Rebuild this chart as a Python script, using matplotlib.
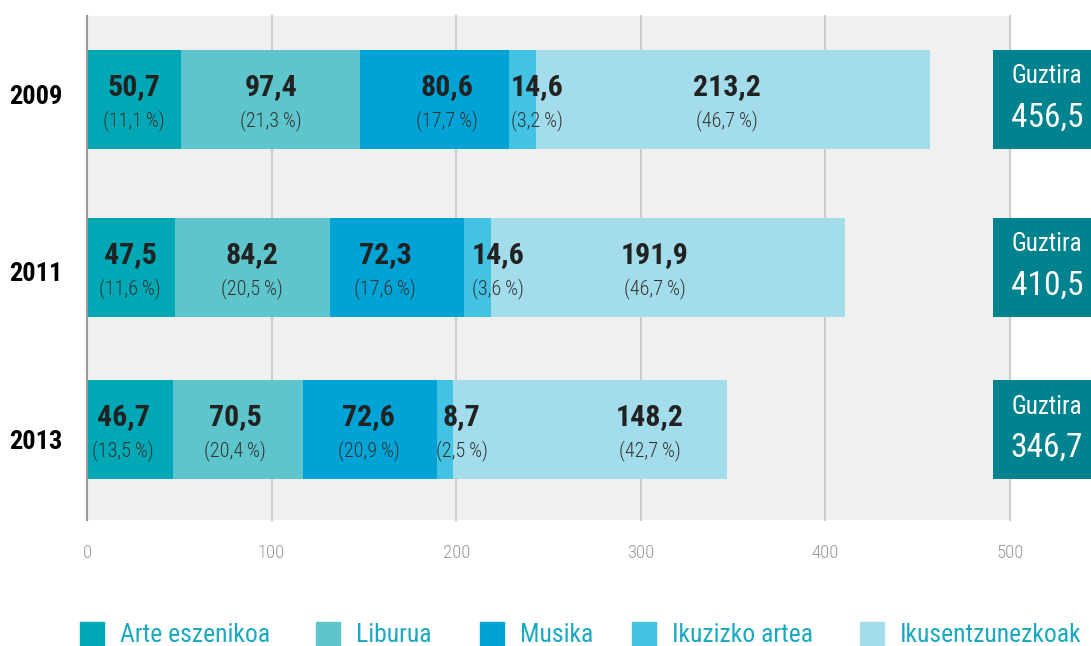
import matplotlib
matplotlib.use("Agg")
import matplotlib.pyplot as plt
from matplotlib import font_manager
from matplotlib.patches import Rectangle

# datuak
years = ["2009", "2011", "2013"]
categories = ["Arte eszenikoa", "Liburua", "Musika", "Ikuzizko artea", "Ikusentzunezkoak"]
arte = [50.7, 47.5, 46.7]
liburua = [97.4, 84.2, 70.5]
musika = [80.6, 72.3, 72.6]
ikuzizko = [14.6, 14.6, 8.7]
ikusentzun = [213.2, 191.9, 148.2]
arte_pct = ["11,1", "11,6", "13,5"]
liburua_pct = ["21,3", "20,5", "20,4"]
musika_pct = ["17,7", "17,6", "20,9"]
ikuzizko_pct = ["3,2", "3,6", "2,5"]
ikusentzun_pct = ["46,7", "46,7", "42,7"]
totals = ["456,5", "410,5", "346,7"]
xticks = [0, 100, 200, 300, 400, 500]

colors = ["#00a8b5", "#5dc5cb", "#00a3d6", "#42c3e3", "#a3dcea"]

# font estrezho bat bilatu
avail = {f.name for f in font_manager.fontManager.ttflist}
FONT = "DejaVu Sans"
for cand in ["Roboto Condensed", "Liberation Sans Narrow", "Open Sans Condensed", "DejaVu Sans Condensed"]:
    if cand in avail:
        FONT = cand
        break
plt.rcParams["font.family"] = [FONT, "DejaVu Sans"]

W, H = 1091, 646
fig = plt.figure(figsize=(W / 100, H / 100), dpi=100)
ax = fig.add_axes([87 / W, 1 - 520 / H, (1010 - 87) / W, (520 - 15.7) / H])
ax.set_facecolor("#f0f0f0")
ax.set_xlim(0, 500)
ax.set_ylim(520, 15.7)

ypos = [99.5, 267.5, 429.5]
bh = 99
series = [arte, liburua, musika, ikuzizko, ikusentzun]
pcts = [arte_pct, liburua_pct, musika_pct, ikuzizko_pct, ikusentzun_pct]

left = [0, 0, 0]
for vals, col in zip(series, colors):
    ax.barh(ypos, vals, left=left, height=bh, color=col, zorder=2)
    left = [l + v for l, v in zip(left, vals)]

# etiketen x posizioak (eskuz, irudian bezala)
label_x = [
    [25.5, 99.7, 195, 244, 346.7],
    [23.3, 89.4, 161.4, 222.6, 307.7],
    [19.5, 80.2, 152.7, 203, 305],
]
for i, y in enumerate(ypos):
    for j in range(5):
        ax.text(label_x[i][j], y - 12, f"{series[j][i]:.1f}".replace(".", ","),
                ha="center", va="center", fontsize=21.5, fontweight="bold", color="#222222", zorder=4)
        ax.text(label_x[i][j], y + 21, f"({pcts[j][i]}\u2009%)",
                ha="center", va="center", fontsize=14.5, fontweight="light", color="#333333", zorder=4)

# guztira kutxak
for i, y in enumerate(ypos):
    ax.barh(y, 53.2, left=490.8, height=bh, color="#00828f", zorder=3, clip_on=False)
    ax.text(520, y - 23, "Guztira", ha="center", va="center", fontsize=18, color="white", zorder=4, clip_on=False)
    ax.text(520, y + 18, totals[i], ha="center", va="center", fontsize=24, color="white", zorder=4, clip_on=False)

year_y = [97, 274, 442]
for yy, yr in zip(year_y, years):
    ax.text(-13.5, yy, yr, ha="right", va="center", fontsize=19, fontweight="bold", color="black", clip_on=False)

ax.set_xticks(xticks)
ax.set_yticks([])
ax.grid(axis="x", color="#cccccc", linewidth=1.5, zorder=1)
ax.set_axisbelow(True)
for g in ax.get_xgridlines():
    g.set_clip_on(False)
for s in ["top", "right", "bottom"]:
    ax.spines[s].set_visible(False)
ax.spines["left"].set_color("#999999")
ax.spines["left"].set_linewidth(1.5)
ax.tick_params(axis="x", length=0, pad=17, labelsize=13.5, labelcolor="#999999")
for t in ax.get_xticklabels():
    t.set_fontweight("light")

# legenda
sq_x = [80, 316, 480, 632, 860]
for x, c, name in zip(sq_x, colors, categories):
    fig.add_artist(Rectangle((x / W, 1 - 646 / H), 24 / W, 24 / H, transform=fig.transFigure, color=c))
    fig.text((x + 40) / W, 1 - 635 / H, name, ha="left", va="center", fontsize=18.5, color="#1aa9c0")

fig.savefig("out.png", dpi=100)
